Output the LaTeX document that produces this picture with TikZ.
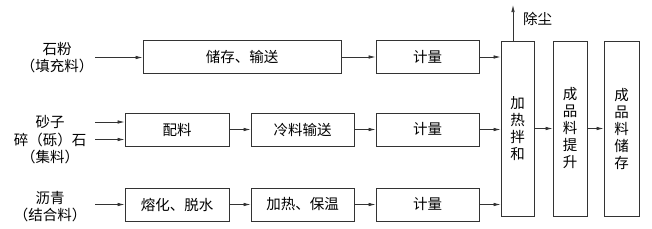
\documentclass[tikz,border=0pt]{standalone}
\usepackage{fontspec}
\setmainfont{Noto Sans CJK SC}
\usetikzlibrary{arrows.meta}

\tikzset{
  box/.style={draw=black!80, line width=0.8pt, minimum height=33pt, inner sep=0pt},
  tall/.style={box, minimum width=34pt, minimum height=175pt, align=center},
  lbl/.style={align=center, inner sep=0pt},
  arr/.style={draw=black!80, line width=0.7pt, -{Latex[length=7pt,width=3.5pt]}}
}

\begin{document}
\begin{tikzpicture}[x=1pt, y=-1pt, font=\fontsize{14.5}{17}\selectfont]
    \useasboundingbox (0,0) rectangle (652,228);

    % Inputs
    \node[lbl] (powder) at (57,57.5) {石粉\\（填充料）};
    \node[lbl] (sand)   at (50,122) {砂子};
    \node[lbl] (gravel) at (50,139.5) {碎（砾）石};
    \node[lbl] (aggr)   at (50,157) {（集料）};
    \node[lbl] (pitch)  at (50,206.5) {沥青\\（结合料）};
    \coordinate (in) at (95,0);

    % Row boxes
    \node[box, minimum width=198pt] (store)  at (242,57)    {储存、输送};
    \node[box, minimum width=103pt] (meterA) at (427.5,57)  {计量};
    \node[box, minimum width=104pt] (batch)  at (177,129.5) {配料};
    \node[box, minimum width=103pt] (cold)   at (302.5,129.5) {冷料输送};
    \node[box, minimum width=103pt] (meterB) at (427.5,129.5) {计量};
    \node[box, minimum width=104pt] (melt)   at (177,204.5) {熔化、脱水};
    \node[box, minimum width=103pt] (heat)   at (302.5,204.5) {加热、保温};
    \node[box, minimum width=103pt] (meterC) at (427.5,204.5) {计量};

    % Tall boxes
    \node[tall, minimum width=33pt] (mixer) at (517.5,128.5) {\fontsize{14.5}{15}\selectfont 加\\热\\拌\\和};
    \node[tall] (lift)    at (570,128.5)   {\fontsize{14.5}{14.5}\selectfont 成\\品\\料\\提\\升};
    \node[tall, minimum width=35pt] (silo) at (621.5,128.5) {\fontsize{14.5}{14.5}\selectfont 成\\品\\料\\储\\存};

    % Dust
    \coordinate (dust) at (513,5);
    \node[lbl, anchor=west] (dustlbl) at (523,19) {除尘};

    % Arrows
    \draw[arr] (powder -| in) -- (powder -| store.west);
    \draw[arr] (store) -- (meterA);
    \draw[arr] (meterA) -- (meterA -| mixer.west);
    \draw[arr] (sand -| in) -- (sand -| batch.west);
    \draw[arr] (gravel -| in) -- (gravel -| batch.west);
    \draw[arr] (batch) -- (cold);
    \draw[arr] (cold) -- (meterB);
    \draw[arr] (meterB) -- (meterB -| mixer.west);
    \draw[arr] (melt.west -| in) -- (melt.west);
    \draw[arr] (melt) -- (heat);
    \draw[arr] (heat) -- (meterC);
    \draw[arr] (meterC) -- (meterC -| mixer.west);
    \draw[arr] (mixer) -- (lift);
    \draw[arr] (lift) -- (silo);
    \draw[arr] (dust |- mixer.north) -- (dust);
\end{tikzpicture}
\end{document}
